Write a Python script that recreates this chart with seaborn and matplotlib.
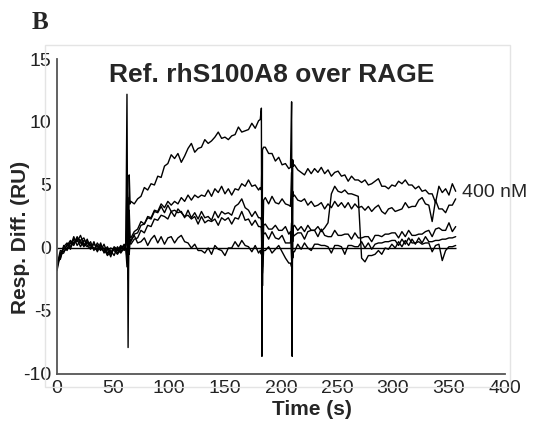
import numpy as np
import pandas as pd
import matplotlib
matplotlib.use("Agg")
import matplotlib.pyplot as plt
from matplotlib.patches import Rectangle
import seaborn as sns

# sampling times (s) for each phase of the sensorgram
t_base = list(range(0, 61, 3))
t_sp1 = [61.5, 62.5, 63.5, 64.5, 65.3]
t_assoc = list(range(66, 181, 3))
t_sp2 = [181.5, 182.5, 183, 183.5, 184.5]
t_dis1 = list(range(186, 208, 3))
t_sp3 = [208.5, 209.5, 210, 210.5, 211]
t_dis2 = list(range(212, 357, 3))

# response difference (RU), one set per injected concentration
base_a = [-1.6, -0.4, -0.1, 0.2, 0.6, 0.3, 0.9, 0.4, 0.2, 0.7, 0.0, 0.3, 0.1, -0.2, 0.3, -0.4, -0.2, -0.6, 0.1, -0.3, 0.2]
base_b = [-1.0, -0.9, 0.1, 0.4, -0.1, 0.7, 0.5, 1.0, 0.3, 0.1, 0.5, -0.2, 0.4, 0.0, -0.3, 0.1, -0.5, 0.0, -0.4, 0.1, -0.1]
base_c = [-1.8, -0.5, -0.4, 0.3, 0.1, 0.9, 0.2, 0.6, 0.8, 0.2, -0.1, 0.5, -0.3, 0.2, -0.1, -0.5, 0.0, -0.2, -0.5, -0.1, 0.3]
base_d = [-1.2, -0.8, 0.2, -0.2, 0.5, 0.4, 0.7, 0.1, 0.6, 0.4, 0.2, 0.0, -0.2, 0.4, -0.4, -0.1, -0.7, 0.1, -0.1, -0.4, 0.0]
base_e = [-1.4, -0.2, -0.3, 0.0, 0.4, 0.2, 0.8, 0.6, 0.1, 0.5, 0.3, -0.1, 0.2, -0.1, 0.0, -0.6, -0.3, -0.1, -0.2, 0.2, -0.2]

sp1_a = [0.3, 12.2, -7.9, 5.8, 3.5]
sp1_b = [0.1, 5.3, -2.5, 3.0, 0.9]
sp1_c = [-0.1, -1.5, 4.0, -0.5, 0.6]
sp1_d = [0.2, 2.0, -1.0, 1.5, 0.4]
sp1_e = [0.0, -0.8, 1.5, 0.2, 0.7]

assoc_a = [3.7, 3.5, 3.9, 4.1, 4.8, 4.6, 5.1, 5.0, 5.7, 5.6, 6.5, 6.7, 7.4, 7.1, 7.5, 6.8, 7.3, 7.9, 8.3, 7.6,
           7.9, 8.0, 8.6, 8.3, 8.5, 8.8, 9.2, 8.7, 8.8, 8.6, 8.9, 9.0, 9.6, 9.2, 9.3, 9.4, 9.9, 9.5, 10.1]
assoc_b = [0.8, 1.3, 1.5, 2.1, 1.9, 2.5, 2.4, 3.0, 2.9, 3.5, 3.2, 3.7, 3.4, 3.7, 3.5, 4.0, 3.7, 4.2, 3.8, 4.2,
           4.0, 4.2, 4.1, 4.6, 4.1, 4.7, 4.4, 4.9, 4.3, 4.7, 4.2, 4.7, 4.6, 5.1, 4.9, 5.4, 4.9, 5.0, 4.6]
assoc_c = [0.5, 1.1, 1.2, 1.8, 1.9, 2.4, 2.3, 2.9, 2.8, 3.3, 2.8, 3.4, 2.9, 3.0, 2.8, 2.9, 2.4, 3.0, 2.4, 2.8,
           2.3, 2.9, 2.4, 2.5, 2.2, 2.9, 2.4, 2.9, 2.7, 2.8, 2.6, 3.3, 3.5, 3.9, 3.2, 3.0, 2.5, 2.9, 2.4]
assoc_d = [0.3, 0.7, 0.8, 1.4, 1.2, 1.8, 1.7, 2.3, 2.2, 2.6, 2.5, 2.3, 2.9, 2.5, 3.1, 2.8, 2.5, 2.6, 2.3, 2.5,
           1.9, 2.5, 2.0, 2.2, 2.1, 2.3, 1.8, 2.4, 2.2, 2.4, 1.9, 2.4, 2.3, 2.9, 2.2, 2.3, 1.8, 2.2, 1.7]
assoc_e = [0.6, 1.0, 0.4, 0.5, 0.8, 0.2, 0.7, 1.0, 0.4, 0.9, 0.3, 0.8, 0.9, 0.4, 0.8, 1.0, 0.5, 0.4, 0.0, 0.3,
           -0.2, -0.2, -0.4, 0.0, -0.5, 0.2, -0.1, -0.2, -0.6, 0.0, 0.0, 0.5, 0.1, 0.6, 0.2, 0.1, -0.3, 0.2, -0.4]

sp2_a = [10.2, 11.1, -8.6, 7.8, 8.0]
sp2_b = [4.8, 4.6, 6.8, -1.5, 3.8]
sp2_c = [2.4, 2.2, 0.5, -3.0, 1.8]
sp2_d = [1.7, 1.6, -1.0, 2.5, 1.1]
sp2_e = [-0.2, -0.5, 1.0, -2.0, -0.2]

dis1_a = [8.0, 7.5, 7.5, 6.9, 7.2, 6.6, 6.7, 6.3]
dis1_b = [4.0, 3.5, 4.1, 3.6, 3.5, 3.9, 3.5, 3.4]
dis1_c = [1.9, 1.5, 1.5, 1.8, 1.4, 1.4, 1.7, 1.1]
dis1_d = [1.2, 0.7, 1.3, 0.8, 0.7, 1.0, 0.4, 0.4]
dis1_e = [-0.2, 0.1, -0.4, -0.1, 0.2, -0.3, -0.8, -1.2]

sp3_a = [6.4, 11.6, -8.6, 7.0, 6.5]
sp3_b = [3.3, 6.0, -3.0, 4.5, 4.1]
sp3_c = [1.3, -1.0, 3.0, 0.5, 1.7]
sp3_d = [0.4, 2.0, -2.0, 1.5, 0.9]
sp3_e = [-1.2, -1.5, 1.0, -0.8, -0.3]

dis2_a = [6.6, 6.2, 6.0, 5.8, 6.3, 5.9, 6.3, 6.0, 6.4, 5.9, 6.2, 5.7, 6.0, 6.1, 5.7, 5.8, 5.3, 5.7, 5.4, 5.4,
          5.2, 5.4, 5.0, 5.1, 5.3, 5.5, 4.9, 4.9, 4.7, 5.0, 4.9, 5.3, 5.1, 5.4, 5.0, 5.0, 4.7, 4.9, 4.5, 4.6,
          4.3, 4.3, 3.6, 4.9, 4.4, 4.7, 4.2, 5.1, 4.5]
dis2_b = [4.2, 3.8, 3.7, 3.9, 3.4, 3.7, 3.3, 3.4, 3.6, 3.1, 3.5, 3.2, 3.7, 3.3, 3.6, 3.2, 3.6, 3.1, 3.5, 3.2,
          3.3, 3.0, 3.3, 2.9, 3.2, 3.4, 2.9, 2.7, 3.1, 3.2, 2.9, 3.0, 3.1, 3.6, 3.2, 3.3, 3.3, 3.8, 4.0, 3.5,
          3.4, 2.1, 3.8, 3.1, 3.1, 2.8, 3.4, 3.4, 3.9]
dis2_c = [1.8, 1.4, 1.7, 1.3, 1.8, 1.4, 1.4, 1.7, 1.3, 1.6, 2.0, 4.3, 4.9, 4.5, 4.4, 4.6, 4.3, 4.3, 4.2, 4.1,
          -0.8, -1.1, -0.6, -0.6, -0.5, -0.2, -0.5, 0.0, -0.1, 0.3, 0.0, 0.5, 0.1, 0.6, 0.2, 0.7, 0.3, 0.8, 0.4, 0.9,
          0.5, 0.5, 0.6, 0.6, 0.7, 0.7, 0.8, 0.8, 0.9]
dis2_d = [1.0, 1.2, 1.2, 0.7, 1.3, 1.4, 1.4, 0.9, 1.5, 1.0, 0.9, 0.9, 1.4, 1.0, 1.0, 1.1, 1.1, 0.7, 1.2, 0.8,
          0.8, 0.9, 0.9, 0.5, 1.0, 1.0, 0.9, 1.1, 1.1, 1.2, 1.2, 0.8, 1.3, 0.9, 1.4, 1.0, 1.0, 1.1, 1.1, 1.3,
          1.4, 0.9, 1.5, 1.6, 1.4, 1.4, 2.0, 1.3, 1.7]
dis2_e = [-0.3, 0.3, -0.1, 0.4, 0.0, -0.2, 0.3, 0.3, 0.2, 0.2, 0.1, -0.4, 0.2, 0.2, 0.1, -0.5, 0.2, 0.2, 0.1, 0.1,
          0.5, 0.0, 0.4, -0.1, 0.3, 0.4, 0.4, 0.5, 0.5, 0.6, 0.6, 0.2, 0.7, 0.3, 0.8, 0.4, 0.4, 0.5, 0.3, 0.4,
          0.4, -0.3, 0.2, 0.3, -1.0, -0.2, 0.1, 0.1, 0.2]

curves = {
    "400 nM": [base_a, sp1_a, assoc_a, sp2_a, dis1_a, sp3_a, dis2_a],
    "200 nM": [base_b, sp1_b, assoc_b, sp2_b, dis1_b, sp3_b, dis2_b],
    "100 nM": [base_c, sp1_c, assoc_c, sp2_c, dis1_c, sp3_c, dis2_c],
    "50 nM": [base_d, sp1_d, assoc_d, sp2_d, dis1_d, sp3_d, dis2_d],
    "25 nM": [base_e, sp1_e, assoc_e, sp2_e, dis1_e, sp3_e, dis2_e],
}
times = t_base + t_sp1 + t_assoc + t_sp2 + t_dis1 + t_sp3 + t_dis2

rows = []
for name, parts in curves.items():
    vals = sum(parts, [])
    assert len(vals) == len(times), (name, len(vals), len(times))
    rows.append(pd.DataFrame({"time": times, "resp": vals, "conc": name}))
df = pd.concat(rows, ignore_index=True)

sns.set_style("white")
plt.rcParams["font.family"] = ["Liberation Sans", "DejaVu Sans"]
plt.rcParams["axes.unicode_minus"] = False

fig = plt.figure(figsize=(5.38, 4.26), dpi=100)
# faint outer frame as in the original figure panel
fig.patches.append(Rectangle((0.0836, 0.0915), 0.8644, 0.8025, transform=fig.transFigure,
                             fill=False, edgecolor="#e4e4e4", linewidth=1.0))
ax = fig.add_axes([0.1059, 0.1221, 0.8327, 0.7394])
ax.patch.set_alpha(0)

sns.lineplot(data=df, x="time", y="resp", hue="conc", units="conc", estimator=None,
             palette=["black"] * 5, linewidth=1.0, legend=False, ax=ax)
ax.hlines(0, min(times), max(times), color="black", linewidth=1.0)

ax.set_xlim(0, 400)
ax.set_ylim(-10, 15)
ax.set_xticks(range(0, 401, 50))
ax.set_yticks(range(-10, 16, 5))
ax.tick_params(direction="in", length=3, width=0.8, labelsize=14, colors="#222222", pad=4)
for side in ["top", "right"]:
    ax.spines[side].set_visible(False)
for side in ["left", "bottom"]:
    ax.spines[side].set_color("#555555")
    ax.spines[side].set_linewidth(1.3)

ax.set_xlabel("Time (s)", fontsize=15, fontweight="bold")
ax.set_ylabel("Resp. Diff. (RU)", fontsize=15, fontweight="bold")
ax.xaxis.set_label_coords(0.569, -0.083)
ax.yaxis.set_label_coords(-0.06, 0.432)

ax.text(192, 13.2, "Ref. rhS100A8 over RAGE", fontsize=19, fontweight="bold",
        ha="center", va="baseline")
ax.text(362, 4.4, "400 nM", fontsize=14, ha="left", va="center")
fig.text(0.058, 0.932, "B", fontsize=18, fontweight="bold", family="Liberation Serif",
         ha="left", va="baseline")

fig.savefig("out.png", dpi=100)
